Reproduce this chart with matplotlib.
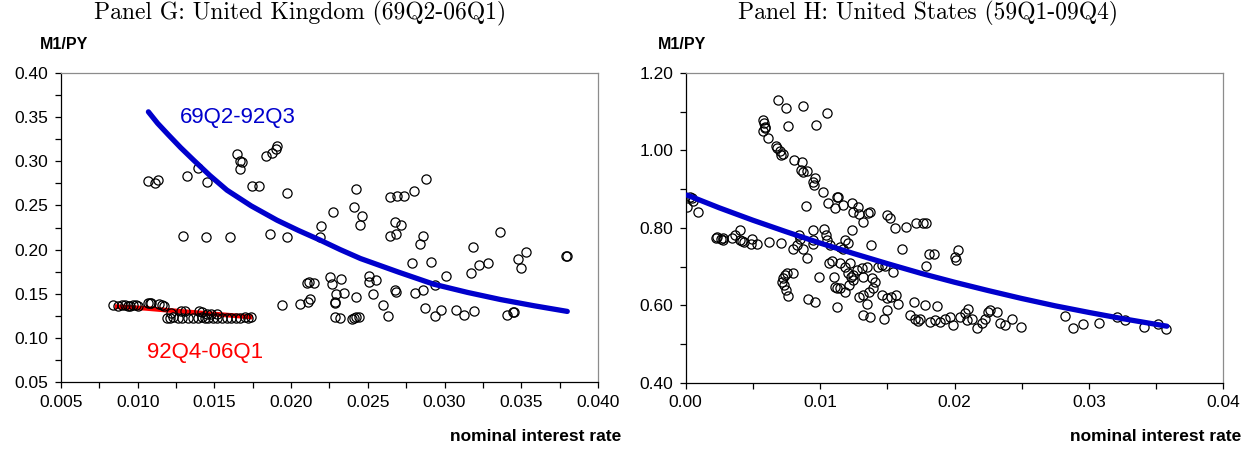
import numpy as np
import matplotlib
matplotlib.use("Agg")
import matplotlib.pyplot as plt
from matplotlib.ticker import MultipleLocator, FormatStrFormatter

# ---- Panel G: United Kingdom, 69Q2-92Q3 (black circles) ----
uk_early_x = [0.0107, 0.0111, 0.0113, 0.0132, 0.0139, 0.01455, 0.01647, 0.0168, 0.01668, 0.0167,
              0.01838, 0.01877, 0.01903, 0.01908, 0.01745, 0.01794, 0.01973, 0.01298, 0.01446, 0.01599,
              0.01864, 0.01971, 0.02426, 0.02413, 0.02465, 0.02452, 0.02274, 0.02197, 0.02191, 0.02643,
              0.02687, 0.02734, 0.0280, 0.02876, 0.02676, 0.02717, 0.02643, 0.02682, 0.02861, 0.02843,
              0.0336, 0.03186, 0.03533, 0.03478, 0.03496, 0.03796, 0.03794, 0.02785, 0.02913, 0.03007,
              0.0317, 0.03224, 0.03285, 0.02506, 0.02556, 0.0251, 0.02935, 0.02861, 0.02806, 0.02676,
              0.02682, 0.02535, 0.02599, 0.02631, 0.02426, 0.0287, 0.02935, 0.02974, 0.03078, 0.03126,
              0.03191, 0.03405, 0.03447, 0.03452, 0.02114, 0.02147, 0.02104, 0.02251, 0.02267, 0.02328,
              0.02295, 0.02343, 0.02289, 0.02125, 0.02108, 0.0206, 0.01941, 0.02289, 0.02317, 0.02398,
              0.02426, 0.02408, 0.02441, 0.02284]
uk_early_y = [0.2776, 0.2756, 0.2787, 0.2836, 0.2926, 0.2764, 0.3082, 0.2988, 0.2912, 0.300,
              0.3065, 0.3092, 0.3135, 0.3168, 0.2725, 0.2722, 0.2636, 0.2152, 0.2137, 0.2137,
              0.2174, 0.2141, 0.2683, 0.2488, 0.2381, 0.2280, 0.2427, 0.2271, 0.2144, 0.2598,
              0.2609, 0.2609, 0.2662, 0.2795, 0.2307, 0.2282, 0.2154, 0.2171, 0.2154, 0.2065,
              0.2194, 0.2031, 0.1974, 0.1888, 0.1786, 0.1925, 0.1930, 0.1851, 0.1858, 0.1706,
              0.1732, 0.1820, 0.1851, 0.1706, 0.1661, 0.1630, 0.1596, 0.1548, 0.1514, 0.1537,
              0.1522, 0.1494, 0.1370, 0.1248, 0.1464, 0.1341, 0.1248, 0.1321, 0.1321, 0.1255,
              0.1307, 0.1264, 0.1298, 0.1290, 0.1634, 0.1622, 0.1622, 0.1690, 0.1608, 0.1672,
              0.1502, 0.1510, 0.1407, 0.1445, 0.1407, 0.1389, 0.1378, 0.1241, 0.1222, 0.1219,
              0.1241, 0.1230, 0.1241, 0.1400]

# ---- Panel G: United Kingdom, 92Q4-06Q1 ----
uk_late_x = [0.0084, 0.0087, 0.0090, 0.0092, 0.0094, 0.0095, 0.0097, 0.0099, 0.0100,
             0.0107, 0.0108, 0.0109, 0.0114, 0.0116, 0.0117,
             0.0119, 0.0121, 0.0123, 0.0126, 0.0129, 0.0133, 0.0136, 0.0139, 0.0142, 0.0144,
             0.0146, 0.0149, 0.0152, 0.0155, 0.0158, 0.0161, 0.0164, 0.0167, 0.0170, 0.0172, 0.0174,
             0.0122, 0.0128, 0.0131, 0.0140, 0.0142, 0.0145, 0.0148, 0.0152]
uk_late_y = [0.1375, 0.1365, 0.1368, 0.1370, 0.1365, 0.1360, 0.1368, 0.1370, 0.1362,
             0.1390, 0.1395, 0.1400, 0.1385, 0.1370, 0.1365,
             0.1230, 0.1225, 0.1232, 0.1228, 0.1225, 0.1230, 0.1225, 0.1228, 0.1232, 0.1226,
             0.1230, 0.1225, 0.1228, 0.1230, 0.1225, 0.1228, 0.1230, 0.1226, 0.1232, 0.1228, 0.1235,
             0.1285, 0.1300, 0.1305, 0.1310, 0.1290, 0.1275, 0.1270, 0.1265]

# fitted curves
uk_fit1_x = [0.0107, 0.0113, 0.0120, 0.0128, 0.01364, 0.0147, 0.01582, 0.0174, 0.01908, 0.0205,
             0.0219, 0.0232, 0.02452, 0.0270, 0.0293, 0.0315, 0.03366, 0.0358, 0.0380]
uk_fit1_y = [0.356, 0.343, 0.330, 0.3155, 0.3014, 0.2840, 0.2673, 0.2495, 0.2333, 0.2215,
             0.2107, 0.2000, 0.1899, 0.1745, 0.1608, 0.1515, 0.1434, 0.1365, 0.1300]
uk_fit2_x = [0.0085, 0.0105, 0.0125, 0.0150, 0.0175]
uk_fit2_y = [0.1355, 0.1335, 0.1305, 0.1270, 0.1235]

# ---- Panel H: United States, 59Q1-09Q4 ----
us_x = [0.00689, 0.00746, 0.0087, 0.01054, 0.00759, 0.00967,
        0.00577, 0.00582, 0.0059, 0.00572, 0.0059, 0.00615, 0.00672,
        0.00682, 0.00702, 0.00727, 0.00706, 0.00808,
        0.00863, 0.00856, 0.0087, 0.009, 0.00962, 0.00949, 0.00955, 0.01024, 0.00895,
        0.01061, 0.01111, 0.01128,
        0.00012, 0.00045, 0.00057, 0.00094, 0.00032,
        0.00225, 0.00235, 0.0026, 0.0028, 0.00275,
        0.00342, 0.00367, 0.00404, 0.00417, 0.00434, 0.00404,
        0.00486, 0.00491, 0.00533, 0.00622, 0.00707,
        0.008, 0.00826, 0.0085, 0.00875, 0.00845, 0.009,
        0.00945, 0.0095, 0.00945, 0.01029, 0.01044, 0.01049,
        0.00722, 0.00739, 0.00756, 0.00796, 0.00714, 0.00731, 0.00746, 0.00763,
        0.00912, 0.00962, 0.00994, 0.01103, 0.01124, 0.01068, 0.01086, 0.01124,
        0.01136, 0.01173, 0.01235, 0.01247, 0.01284, 0.01292, 0.01317, 0.01359, 0.01371,
        0.01496, 0.0152, 0.01557, 0.01639, 0.01714, 0.01768, 0.01788,
        0.01074, 0.01185, 0.0121, 0.01148, 0.01173, 0.01235, 0.01376, 0.01607,
        0.01813, 0.01847, 0.01788, 0.02028, 0.02004, 0.02011,
        0.01148, 0.01185, 0.01223, 0.0121, 0.01228, 0.01247, 0.01272, 0.0131, 0.01347, 0.01321,
        0.01247, 0.01217, 0.01148, 0.01111, 0.01185,
        0.01384, 0.01408, 0.01433, 0.01458, 0.01483, 0.01545, 0.01396, 0.01366, 0.01321, 0.01292, 0.01347,
        0.01458, 0.01496, 0.01525, 0.01565, 0.01582, 0.01496, 0.01475, 0.01371, 0.01321,
        0.01699, 0.01781, 0.01868,
        0.01669, 0.01706, 0.01731, 0.01743, 0.01818, 0.01855, 0.01892, 0.01929, 0.01967, 0.01987,
        0.02041, 0.02078, 0.02091,
        0.02103, 0.02128, 0.0217, 0.02202, 0.02227, 0.02252, 0.02264, 0.02318, 0.02339, 0.02376,
        0.02426, 0.02493,
        0.02822, 0.0288, 0.02954, 0.03075, 0.03207, 0.03269, 0.03413, 0.03516, 0.03574]
us_y = [1.129, 1.109, 1.116, 1.096, 1.064, 1.066,
        1.079, 1.070, 1.061, 1.049, 1.058, 1.033, 1.012,
        1.006, 0.998, 0.991, 0.988, 0.9755,
        0.971, 0.950, 0.945, 0.947, 0.930, 0.919, 0.911, 0.8935, 0.857,
        0.864, 0.851, 0.881,
        0.855, 0.8765, 0.8695, 0.842, 0.881,
        0.773, 0.777, 0.771, 0.775, 0.769,
        0.775, 0.782, 0.795, 0.766, 0.764, 0.769,
        0.758, 0.771, 0.758, 0.764, 0.760,
        0.747, 0.756, 0.771, 0.747, 0.782, 0.7215,
        0.795, 0.769, 0.758, 0.797, 0.782, 0.769,
        0.671, 0.678, 0.683, 0.683, 0.661, 0.6525, 0.640, 0.625,
        0.6155, 0.609, 0.674, 0.674, 0.6455, 0.7085, 0.7145, 0.5964,
        0.879, 0.859, 0.865, 0.842, 0.853, 0.836, 0.816, 0.838, 0.842,
        0.833, 0.825, 0.799, 0.803, 0.812, 0.812, 0.813,
        0.756, 0.769, 0.760, 0.750, 0.745, 0.795, 0.756, 0.745,
        0.733, 0.734, 0.703, 0.743, 0.726, 0.717,
        0.7085, 0.700, 0.7085, 0.683, 0.674, 0.678, 0.691, 0.696, 0.700, 0.674,
        0.665, 0.6525, 0.644, 0.648, 0.635,
        0.670, 0.661, 0.700, 0.704, 0.7015, 0.687, 0.644, 0.635, 0.627, 0.622, 0.605,
        0.627, 0.618, 0.622, 0.627, 0.605, 0.588, 0.566, 0.571, 0.575,
        0.609, 0.601, 0.598,
        0.575, 0.564, 0.560, 0.566, 0.558, 0.562, 0.558, 0.564, 0.569, 0.549,
        0.571, 0.581, 0.562,
        0.590, 0.564, 0.541, 0.5535, 0.566, 0.5835, 0.588, 0.582, 0.5535, 0.549,
        0.566, 0.545,
        0.573, 0.541, 0.552, 0.555, 0.571, 0.562, 0.545, 0.552, 0.538]

us_fit_x = [0.0001, 0.0025, 0.0050, 0.0075, 0.0100, 0.0125, 0.0150, 0.0175, 0.0200,
            0.0225, 0.0250, 0.0275, 0.0300, 0.0325, 0.0358]
us_fit_y = [0.885, 0.852, 0.820, 0.790, 0.761, 0.734, 0.708, 0.683, 0.660,
            0.6385, 0.618, 0.599, 0.582, 0.566, 0.5465]

plt.rcParams['font.family'] = ['Liberation Sans', 'DejaVu Sans']

BLUE = '#0000CC'
fig = plt.figure(figsize=(12.57, 4.5), dpi=100)

ax1 = fig.add_axes([0.0485, 0.151, 0.4272, 0.6868])
ax2 = fig.add_axes([0.5455, 0.149, 0.4277, 0.6888])


def style_axes(ax):
    ax.spines['top'].set_color('#8c8c8c')
    ax.spines['right'].set_color('#8c8c8c')
    for s in ['left', 'bottom']:
        ax.spines[s].set_color('black')
    for s in ax.spines.values():
        s.set_linewidth(0.9)
    ax.tick_params(which='both', direction='out', length=4, width=0.9,
                   top=False, right=False, labelsize=12.5, pad=5)


def circles(ax, x, y):
    ax.plot(x, y, linestyle='none', marker='o', markersize=6.6,
            markerfacecolor='none', markeredgecolor='black', markeredgewidth=0.9,
            zorder=3)


# Panel G
ax1.plot(uk_fit2_x, uk_fit2_y, color='red', lw=3.4, zorder=2, solid_capstyle='butt')
circles(ax1, uk_early_x, uk_early_y)
circles(ax1, uk_late_x, uk_late_y)
ax1.plot(uk_fit1_x, uk_fit1_y, color=BLUE, lw=3.8, zorder=4,
         solid_capstyle='round', solid_joinstyle='round')
ax1.set_xlim(0.005, 0.040)
ax1.set_ylim(0.05, 0.40)
ax1.xaxis.set_major_locator(MultipleLocator(0.005))
ax1.xaxis.set_minor_locator(MultipleLocator(0.0025))
ax1.yaxis.set_major_locator(MultipleLocator(0.05))
ax1.yaxis.set_minor_locator(MultipleLocator(0.025))
ax1.xaxis.set_major_formatter(FormatStrFormatter('%.3f'))
ax1.yaxis.set_major_formatter(FormatStrFormatter('%.2f'))
style_axes(ax1)
ax1.text(0.0165, 0.350, '69Q2-92Q3', color=BLUE, fontsize=16, ha='center', va='center')
ax1.text(0.0144, 0.0837, '92Q4-06Q1', color='red', fontsize=16, ha='center', va='center')

# Panel H
circles(ax2, us_x, us_y)
ax2.plot(us_fit_x, us_fit_y, color=BLUE, lw=3.8, zorder=4,
         solid_capstyle='round', solid_joinstyle='round')
ax2.set_xlim(0.0, 0.04)
ax2.set_ylim(0.40, 1.20)
ax2.xaxis.set_major_locator(MultipleLocator(0.01))
ax2.xaxis.set_minor_locator(MultipleLocator(0.005))
ax2.yaxis.set_major_locator(MultipleLocator(0.2))
ax2.yaxis.set_minor_locator(MultipleLocator(0.1))
ax2.xaxis.set_major_formatter(FormatStrFormatter('%.2f'))
ax2.yaxis.set_major_formatter(FormatStrFormatter('%.2f'))
style_axes(ax2)

# titles and axis captions
serif = ['cmr10', 'Liberation Serif', 'DejaVu Serif']
fig.text(300 / 1257, 0.997, 'Panel G: United Kingdom (69Q2-06Q1)', family=serif,
         fontsize=17, ha='center', va='top')
fig.text(928 / 1257, 0.997, 'Panel H: United States (59Q1-09Q4)', family=serif,
         fontsize=17, ha='center', va='top')
fig.text(40 / 1257, 0.902, 'M1/PY', fontsize=11.5, fontweight='bold', va='center')
fig.text(658 / 1257, 0.902, 'M1/PY', fontsize=11.5, fontweight='bold', va='center')
fig.text(621 / 1257, 0.031, 'nominal interest rate', fontsize=12.5, fontweight='bold',
         ha='right', va='center')
fig.text(1241 / 1257, 0.031, 'nominal interest rate', fontsize=12.5, fontweight='bold',
         ha='right', va='center')

fig.savefig('out.png', dpi=100)
